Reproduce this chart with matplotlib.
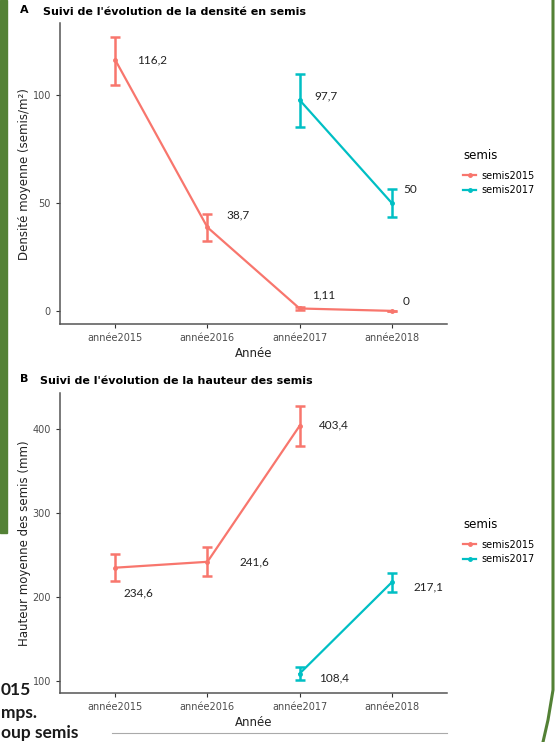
import numpy as np
import matplotlib.pyplot as plt
from matplotlib.lines import Line2D
from matplotlib.patches import Rectangle

annees = ['année2015', 'année2016', 'année2017', 'année2018']
red, cyan = '#F8766D', '#00BFC4'

# densité (semis/m²)
dens15_x = [1, 2, 3, 4]
dens15 = [116.2, 38.7, 1.11, 0]
dens15_lo = [104.8, 32.5, 0.3, 0]
dens15_hi = [127.0, 45.0, 1.9, 0]
dens17_x = [3, 4]
dens17 = [97.7, 50]
dens17_lo = [85.3, 43.5]
dens17_hi = [109.8, 56.5]

# hauteur (mm)
haut15_x = [1, 2, 3]
haut15 = [234.6, 241.6, 403.4]
haut15_lo = [219.0, 225.0, 379.0]
haut15_hi = [250.5, 259.0, 427.5]
haut17_x = [3, 4]
haut17 = [108.4, 217.1]
haut17_lo = [101.2, 205.8]
haut17_hi = [116.0, 228.0]

lab_font = 'Lato'
tick_col = '#4D4D4D'

fig = plt.figure(figsize=(5.57, 7.42), dpi=100)


def panel(ax, series, ylim, yticks, ylabel):
    for xs, ys, lo, hi, col in series:
        ax.plot(xs, ys, color=col, lw=1.6, marker='o', ms=2.5, zorder=3)
        yerr = [np.array(ys) - np.array(lo), np.array(hi) - np.array(ys)]
        ax.errorbar(xs, ys, yerr=yerr, fmt='none', ecolor=col, elinewidth=1.8,
                    capsize=3.3, capthick=1.8, zorder=3)
    ax.set_xlim(0.4, 4.6)
    ax.set_ylim(*ylim)
    ax.set_xticks([1, 2, 3, 4])
    ax.set_xticklabels(annees)
    ax.set_yticks(yticks)
    for s in ['top', 'right']:
        ax.spines[s].set_visible(False)
    for s in ['left', 'bottom']:
        ax.spines[s].set_color('#555555')
        ax.spines[s].set_linewidth(1.1)
    ax.tick_params(colors='#333333', labelcolor=tick_col, labelsize=7, length=3, width=0.8)
    ax.set_xlabel('Année', fontsize=8.5, color='#222222', labelpad=3)
    ax.set_ylabel(ylabel, fontsize=8.5, color='#222222', labelpad=1)
    handles = [Line2D([], [], color=red, lw=1.6, marker='o', ms=2.5),
               Line2D([], [], color=cyan, lw=1.6, marker='o', ms=2.5)]
    leg = ax.legend(handles, ['semis2015', 'semis2017'], title='semis',
                    loc='upper left', bbox_to_anchor=(1.02, 0.61), frameon=False,
                    fontsize=7, title_fontsize=8.5, handlelength=1.3,
                    handletextpad=0.5, labelspacing=0.45)
    leg._legend_box.align = 'left'
    leg._legend_box.sep = 6


# A : densité
axA = fig.add_axes([0.1077, 0.563, 0.6948, 0.4056])
panel(axA, [(dens15_x, dens15, dens15_lo, dens15_hi, red),
            (dens17_x, dens17, dens17_lo, dens17_hi, cyan)],
      (-6.2, 133.2), [0, 50, 100], 'Densité moyenne (semis/m²)')
offA = [(16, 0), (14, 9), (9, 10), (8, 7), (11, 3), (8, 10)]
for (x, y), txt, (dx, dy) in zip(list(zip(dens15_x, dens15)) + list(zip(dens17_x, dens17)),
                                 ['116,2', '38,7', '1,11', '0', '97,7', '50'], offA):
    axA.annotate(txt, (x, y), xytext=(dx, dy), textcoords='offset points',
                 ha='left', va='center', fontsize=8.5, family=lab_font, color='#222222')

# B : hauteur
axB = fig.add_axes([0.1077, 0.0664, 0.6948, 0.4044])
panel(axB, [(haut15_x, haut15, haut15_lo, haut15_hi, red),
            (haut17_x, haut17, haut17_lo, haut17_hi, cyan)],
      (85.7, 443), [100, 200, 300, 400], 'Hauteur moyenne des semis (mm)')
offB = [(6, -18), (23, 0), (14, 1), (14, -3), (16, -3)]
for (x, y), txt, (dx, dy) in zip(list(zip(haut15_x, haut15)) + list(zip(haut17_x, haut17)),
                                 ['234,6', '241,6', '403,4', '108,4', '217,1'], offB):
    axB.annotate(txt, (x, y), xytext=(dx, dy), textcoords='offset points',
                 ha='left', va='center', fontsize=8.5, family=lab_font, color='#222222')

# titres des panneaux
fig.text(20 / 557, 1 - 10 / 742, 'A', fontsize=8, weight='bold', va='center')
fig.text(43 / 557, 1 - 12 / 742, "Suivi de l'évolution de la densité en semis",
         fontsize=8, weight='bold', va='center')
fig.text(20 / 557, 1 - 379 / 742, 'B', fontsize=8, weight='bold', va='center')
fig.text(40 / 557, 1 - 381 / 742, "Suivi de l'évolution de la hauteur des semis",
         fontsize=8, weight='bold', va='center')

# bordures vertes de la diapositive
fig.add_artist(Rectangle((0, 1 - 533 / 742), 7 / 557, 533 / 742,
                         transform=fig.transFigure, color='#538135', zorder=0))
fig.add_artist(Line2D([553 / 557, 553 / 557, 548 / 557, 543 / 557],
                      [1, 1 - 690 / 742, 1 - 720 / 742, 0], transform=fig.transFigure,
                      color='#538135', lw=2.2))
fig.add_artist(Line2D([112 / 557, 447 / 557], [1 - 733 / 742] * 2, transform=fig.transFigure,
                      color='#AAAAAA', lw=0.8))

# texte de la diapositive en bas à gauche
for y, t, va in [(690, '015', 'center'), (713, 'mps.', 'center'), (741, 'oup semis', 'bottom')]:
    fig.text(1 / 557, 1 - y / 742, t, fontsize=12.5, weight='bold', family='Lato',
             ha='left', va=va, color='#1a1a1a')

fig.savefig('out.png', dpi=100)
